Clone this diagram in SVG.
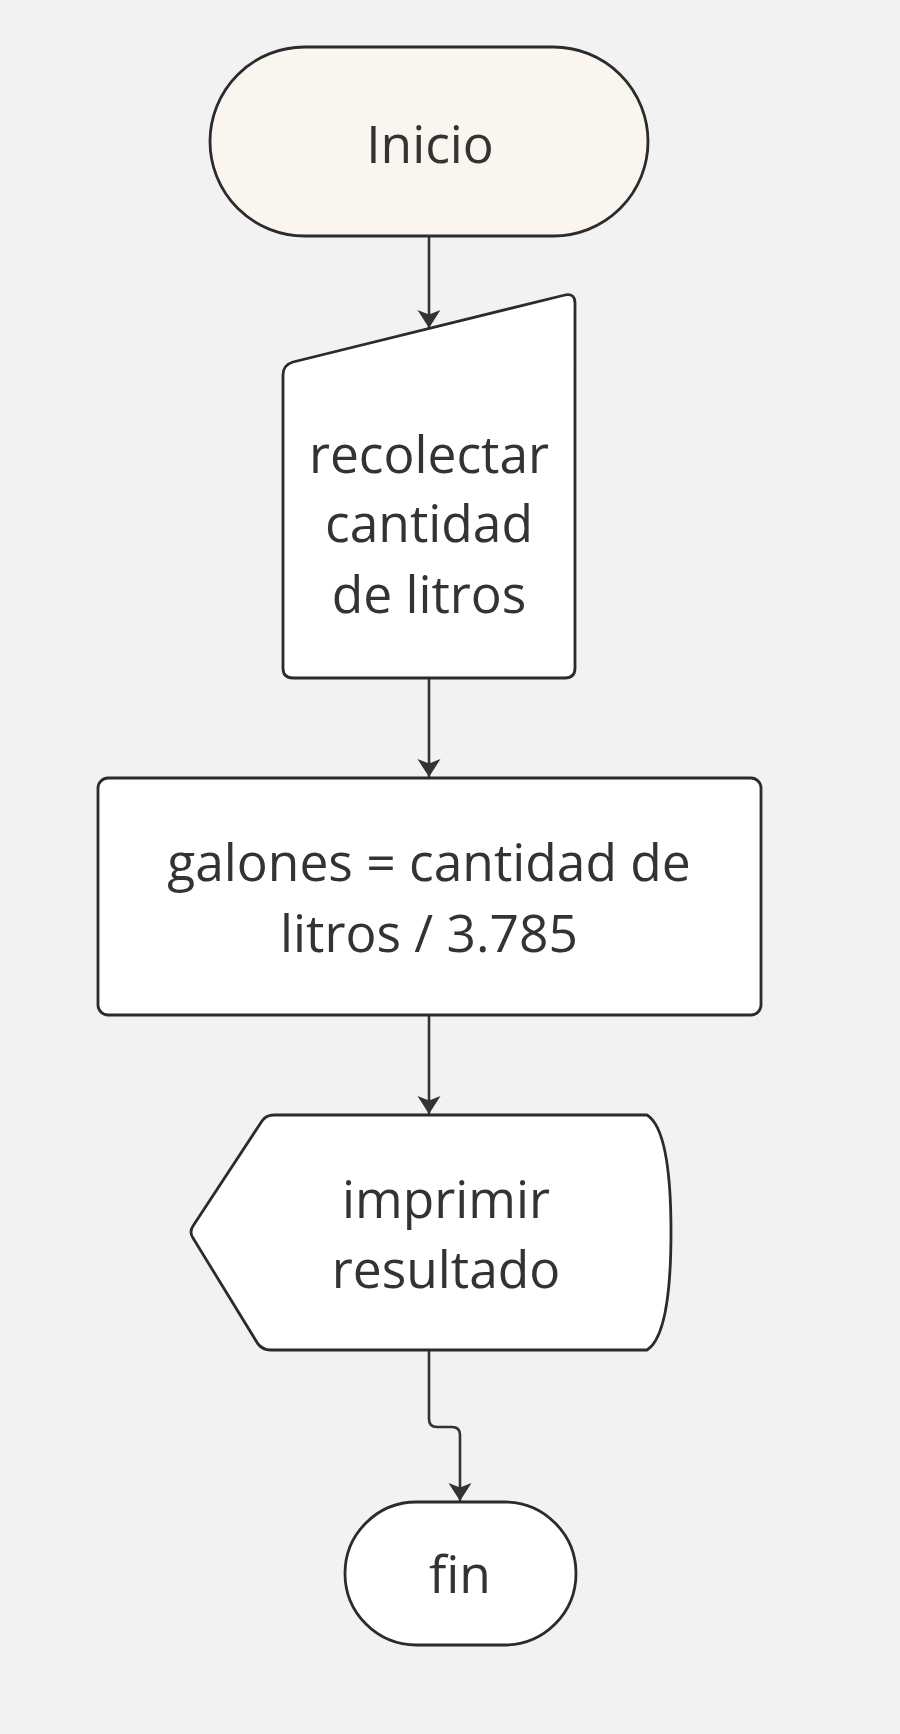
<svg xmlns="http://www.w3.org/2000/svg" width="900" height="1734" viewBox="0 0 900 1734">
<defs>
<style>
.shape{fill:#ffffff;stroke:#2b2b2b;stroke-width:2.8;stroke-linejoin:round}
.lbl{font-family:"Open Sans","Noto Sans","Liberation Sans",sans-serif;font-size:51.5px;fill:#333333;text-anchor:middle}
.conn{fill:none;stroke:#333333;stroke-width:2.6}
</style>
<marker id="arr" viewBox="-20 -13 22 26" refX="0" refY="0" markerWidth="22" markerHeight="26" markerUnits="userSpaceOnUse" orient="auto" overflow="visible">
<path d="M0,0 L-18,-11.5 L-13.5,0 L-18,11.5 Z" fill="#333333"/>
</marker>
</defs>
<rect x="0" y="0" width="900" height="1734" fill="#f2f2f2"/>
<g id="connectors">
<path class="conn" d="M429,236 V328" marker-end="url(#arr)"/>
<path class="conn" d="M429,678 V777" marker-end="url(#arr)"/>
<path class="conn" d="M429,1015 V1114" marker-end="url(#arr)"/>
<path class="conn" d="M429,1350 V1419 Q429,1427 437,1427 H452 Q460,1427 460,1435 V1501" marker-end="url(#arr)"/>
</g>
<g id="inicio">
<rect class="shape" x="210" y="47" width="438" height="189" rx="94.5" ry="94.5" style="fill:#faf6ef"/>
<text class="lbl" x="430" y="163">Inicio</text>
</g>
<g id="recolectar">
<path class="shape" d="M293,362 L565,295 Q575,293 575,303 V668 Q575,678 565,678 H293 Q283,678 283,668 V375 Q283,365 293,362 Z"/>
<text class="lbl" x="429" y="473">recolectar</text>
<text class="lbl" x="429" y="542">cantidad</text>
<text class="lbl" x="429" y="613">de litros</text>
</g>
<g id="calculo">
<rect class="shape" x="98" y="778" width="663" height="237" rx="10" ry="10"/>
<text class="lbl" x="429" y="881">galones = cantidad de</text>
<text class="lbl" x="429" y="952">litros / 3.785</text>
</g>
<g id="imprimir">
<path class="shape" d="M274,1115 H647 Q671,1130 671,1232 Q671,1335 647,1350 H270 Q263,1350 258,1344 L193,1238 Q189,1232 193,1226 L262,1121 Q266,1115 274,1115 Z"/>
<text class="lbl" x="446" y="1218">imprimir</text>
<text class="lbl" x="446" y="1288">resultado</text>
</g>
<g id="fin">
<rect class="shape" x="345" y="1502" width="231" height="143" rx="71.5" ry="71.5"/>
<text class="lbl" x="460" y="1593">fin</text>
</g>
</svg>
